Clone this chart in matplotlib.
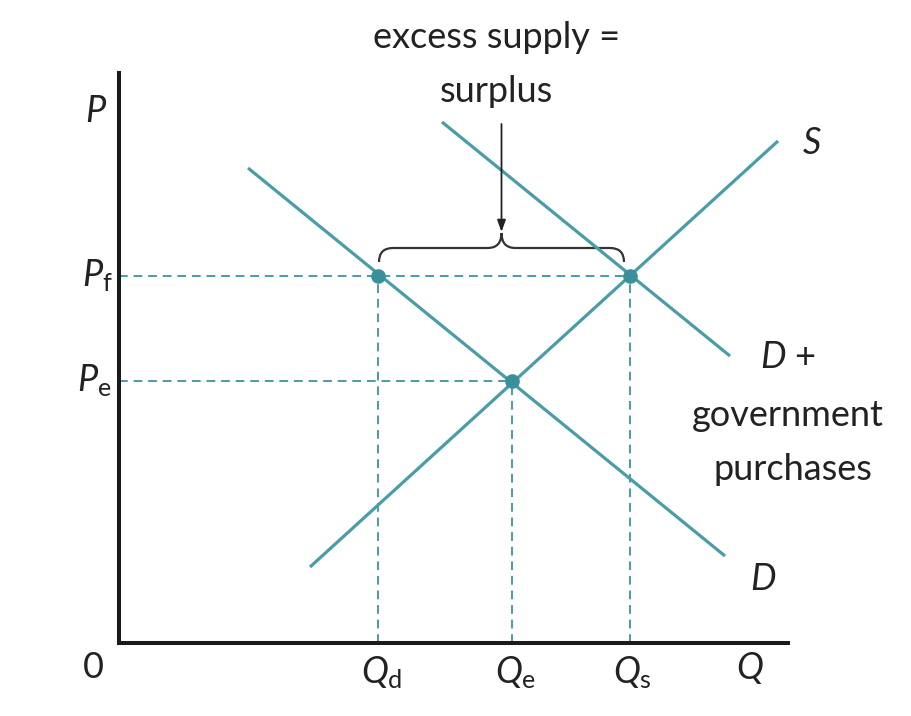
import matplotlib.pyplot as plt
from matplotlib.path import Path
from matplotlib.patches import PathPatch

## Fonts: humanist sans like the textbook figure
plt.rcParams['font.family'] = ['Lato', 'DejaVu Sans']
plt.rcParams['mathtext.fontset'] = 'custom'
plt.rcParams['mathtext.rm'] = 'Lato'
plt.rcParams['mathtext.it'] = 'Lato:italic'

## Data (axis units ~ pixels of the original drawing)
q_d, q_e, q_s = 259, 393, 511
p_e, p_f = 262, 367

supply_q = [191, 659]
supply_p = [76, 502]
demand_q = [129, 606]
demand_p = [475, 87]
gov_q = [323, 611]
gov_p = [521, 287]

teal = '#4a9ca7'
dot = '#3b8f9a'

fig = plt.figure(figsize=(9.12, 7.16), dpi=100)
ax = fig.add_axes([119 / 912, 73 / 716, 669 / 912, 570 / 716])
ax.set_xlim(0, 669)
ax.set_ylim(0, 570)
for s in ['top', 'right']:
    ax.spines[s].set_visible(False)
for s in ['left', 'bottom']:
    ax.spines[s].set_linewidth(2.9)
    ax.spines[s].set_color('#1a1a1a')
ax.set_xticks([])
ax.set_yticks([])

## dashed guides
dash = dict(color=teal, lw=1.4, dashes=(4.5, 3))
ax.plot([0, q_s], [p_f, p_f], **dash)
ax.plot([0, q_e], [p_e, p_e], **dash)
ax.plot([q_d, q_d], [0, p_f], **dash)
ax.plot([q_e, q_e], [0, p_e], **dash)
ax.plot([q_s, q_s], [0, p_f], **dash)

## curves
ax.plot(supply_q, supply_p, color=teal, lw=2.3, solid_capstyle='butt')
ax.plot(demand_q, demand_p, color=teal, lw=2.3, solid_capstyle='butt')
ax.plot(gov_q, gov_p, color=teal, lw=2.3, solid_capstyle='butt')

## intersection dots
ax.plot([q_d, q_s, q_e], [p_f, p_f, p_e], 'o', color=dot, ms=9.5, zorder=5)

## brace over the surplus
xl, xr = q_d + 1, q_s - 6
xm = (xl + xr) / 2
ylo, yhi, ytip = p_f + 14, p_f + 28, p_f + 43
r = 14
verts = [(xl, ylo), (xl, yhi), (xl + r, yhi), (xm - r, yhi), (xm, yhi), (xm, ytip),
         (xm, ytip), (xm, yhi), (xm + r, yhi), (xr - r, yhi), (xr, yhi), (xr, ylo)]
codes = [Path.MOVETO, Path.CURVE3, Path.CURVE3, Path.LINETO, Path.CURVE3, Path.CURVE3,
         Path.MOVETO, Path.CURVE3, Path.CURVE3, Path.LINETO, Path.CURVE3, Path.CURVE3]
ax.add_patch(PathPatch(Path(verts, codes), fill=False, lw=1.6, color='#333333', clip_on=False))

ax.annotate('', xy=(xm, ytip + 1), xytext=(xm, 519),
            arrowprops=dict(arrowstyle='-|>,head_length=0.7,head_width=0.25',
                            color='#222222', lw=1.3, shrinkA=0, shrinkB=0),
            annotation_clip=False)

## labels
fs = 26
tc = '#222222'
ax.text(xm - 5, 606, 'excess supply =', ha='center', va='center', fontsize=fs, color=tc, clip_on=False)
ax.text(xm - 5, 551, 'surplus', ha='center', va='center', fontsize=fs, color=tc, clip_on=False)

ax.text(-24, 531, 'P', ha='center', va='center', fontsize=fs, style='italic', color=tc, clip_on=False)
ax.text(-22, p_f, r'$P_{\mathrm{f}}$', ha='center', va='center', fontsize=fs, color=tc, clip_on=False)
ax.text(-25, p_e, r'$P_{\mathrm{e}}$', ha='center', va='center', fontsize=fs, color=tc, clip_on=False)
ax.text(-26, -25, '0', ha='center', va='center', fontsize=fs, color=tc, clip_on=False)

ax.text(q_d + 4, -30, r'$Q_{\mathrm{d}}$', ha='center', va='center', fontsize=fs, color=tc, clip_on=False)
ax.text(q_e + 4, -30, r'$Q_{\mathrm{e}}$', ha='center', va='center', fontsize=fs, color=tc, clip_on=False)
ax.text(q_s + 2, -30, r'$Q_{\mathrm{s}}$', ha='center', va='center', fontsize=fs, color=tc, clip_on=False)
ax.text(631, -25, 'Q', ha='center', va='center', fontsize=fs, style='italic', color=tc, clip_on=False)

ax.text(693, 500, 'S', ha='center', va='center', fontsize=fs, style='italic', color=tc, clip_on=False)
ax.text(669, 286, r'$D$ +', ha='center', va='center', fontsize=fs, color=tc, clip_on=False)
ax.text(669, 228, 'government', ha='center', va='center', fontsize=fs, color=tc, clip_on=False)
ax.text(674, 173, 'purchases', ha='center', va='center', fontsize=fs, color=tc, clip_on=False)
ax.text(644, 63, 'D', ha='center', va='center', fontsize=fs, style='italic', color=tc, clip_on=False)

fig.savefig('out.png', dpi=100)
